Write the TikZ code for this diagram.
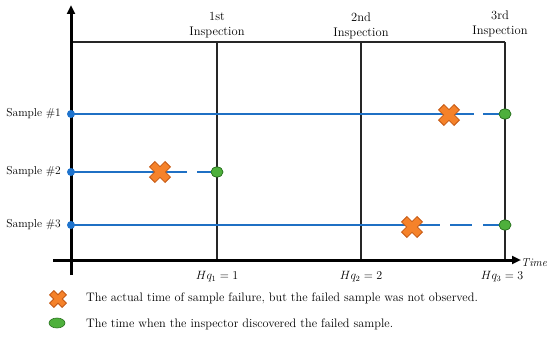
\documentclass[tikz,border=0pt]{standalone}
\usetikzlibrary{arrows.meta,shapes.geometric}
\definecolor{lineblue}{RGB}{31,112,196}
\definecolor{dotblue}{RGB}{30,115,205}
\definecolor{okgreen}{RGB}{78,176,60}
\definecolor{okgreenD}{RGB}{42,112,32}
\definecolor{failor}{RGB}{245,130,42}
\definecolor{failorD}{RGB}{196,88,20}
\tikzset{
  lbl/.style={font=\fontsize{11.5}{13}\selectfont, inner sep=0pt},
  hlbl/.style={font=\fontsize{12.5}{14}\selectfont, inner sep=0pt, align=center},
  qlbl/.style={font=\fontsize{12}{14}\selectfont, inner sep=0pt},
  leglbl/.style={font=\fontsize{12.3}{14}\selectfont, inner sep=0pt, anchor=west},
  axisline/.style={line width=3pt, black},
  inspline/.style={line width=1.2pt, black!85},
  sampleline/.style={line width=2.8pt, lineblue},
  startdot/.style={circle, fill=dotblue, minimum size=8pt, inner sep=0pt},
  founddot/.style={ellipse, fill=okgreen, draw=okgreenD, line width=0.6pt, minimum width=12pt, minimum height=10pt, inner sep=0pt},
  failmark/.pic={
    \filldraw[fill=failor, draw=failorD, line width=0.8pt, rotate=45]
      (3.8,11)--(3.8,3.8)--(11,3.8)--(11,-3.8)--(3.8,-3.8)--(3.8,-11)--(-3.8,-11)--(-3.8,-3.8)--(-11,-3.8)--(-11,3.8)--(-3.8,3.8)--(-3.8,11)--cycle;
  }
}
\begin{document}
\begin{tikzpicture}[x=1pt,y=-1pt]
\useasboundingbox (0,0) rectangle (550,337);
% axes
\coordinate (ybot) at (71,275);
\coordinate (ytop) at (71,5);
\coordinate (xl) at (53,260);
\coordinate (xr) at (521,260);
% inspection frame
\coordinate (tl) at (71,42);
\coordinate (i1t) at (217,42);
\coordinate (i2t) at (361,42);
\coordinate (i3t) at (505,42);
\coordinate (i1b) at (217,260);
\coordinate (i2b) at (361,260);
\coordinate (i3b) at (505,260);
\draw[inspline] (tl) -- (i3t);
\draw[inspline] (i1t) -- (i1b);
\draw[inspline] (i2t) -- (i2b);
\draw[inspline] (i3t) -- (i3b);
\draw[axisline, -{Triangle[length=9pt,width=8pt]}] (xl) -- (xr);
\draw[axisline, -{Triangle[length=9pt,width=8pt]}] (ybot) -- (ytop);
% inspection labels
\node[hlbl] (h1) at (217,25.5) {1st\\[1pt]Inspection};
\node[hlbl] (h2) at (361,25.5) {2nd\\[1pt]Inspection};
\node[hlbl] (h3) at (500,24) {3rd\\[1pt]Inspection};
\node[qlbl] (q1) at (217,277) {$Hq_1 = 1$};
\node[qlbl] (q2) at (361,277) {$Hq_2 = 2$};
\node[qlbl] (q3) at (502,277) {$Hq_3 = 3$};
\node[lbl, anchor=west] (time) at (521,263) {\itshape Time};
% sample labels
\node[lbl, anchor=east] (l1) at (61,114) {Sample \#1};
\node[lbl, anchor=east] (l2) at (61,172) {Sample \#2};
\node[lbl, anchor=east] (l3) at (61,225) {Sample \#3};
% sample 1
\coordinate (s1) at (71,114);
\coordinate (g1a) at (474,114);
\coordinate (g1b) at (483,114);
\node[founddot] (d1) at (505,114) {};
\draw[sampleline] (s1) -- (g1a);
\draw[sampleline] (g1b) -- (d1.center);
\pic at (449,115) {failmark};
\node[founddot] at (d1) {};
\node[startdot] (b1) at (s1) {};
% sample 2
\coordinate (s2) at (71,172);
\coordinate (g2a) at (187,172);
\coordinate (g2b) at (197,172);
\node[founddot] (d2) at (217,172) {};
\draw[sampleline] (s2) -- (g2a);
\draw[sampleline] (g2b) -- (d2.center);
\pic at (160,172) {failmark};
\node[founddot] at (d2) {};
\node[startdot] (b2) at (s2) {};
% sample 3
\coordinate (s3) at (71,225);
\coordinate (g3a) at (440,225);
\coordinate (g3b) at (450,225);
\coordinate (g3c) at (472,225);
\coordinate (g3d) at (483,225);
\node[founddot] (d3) at (505,225) {};
\draw[sampleline] (s3) -- (g3a);
\draw[sampleline] (g3b) -- (g3c);
\draw[sampleline] (g3d) -- (d3.center);
\pic at (412,227) {failmark};
\node[founddot] at (d3) {};
\node[startdot] (b3) at (s3) {};
% legend
\pic[scale=0.8] at (58,299) {failmark};
\node[founddot, minimum width=16pt, minimum height=10pt] (lg) at (57,323) {};
\node[leglbl] (t1) at (86,298) {The actual time of sample failure, but the failed sample was not observed.};
\node[leglbl] (t2) at (86,324) {The time when the inspector discovered the failed sample.};
\end{tikzpicture}
\end{document}
